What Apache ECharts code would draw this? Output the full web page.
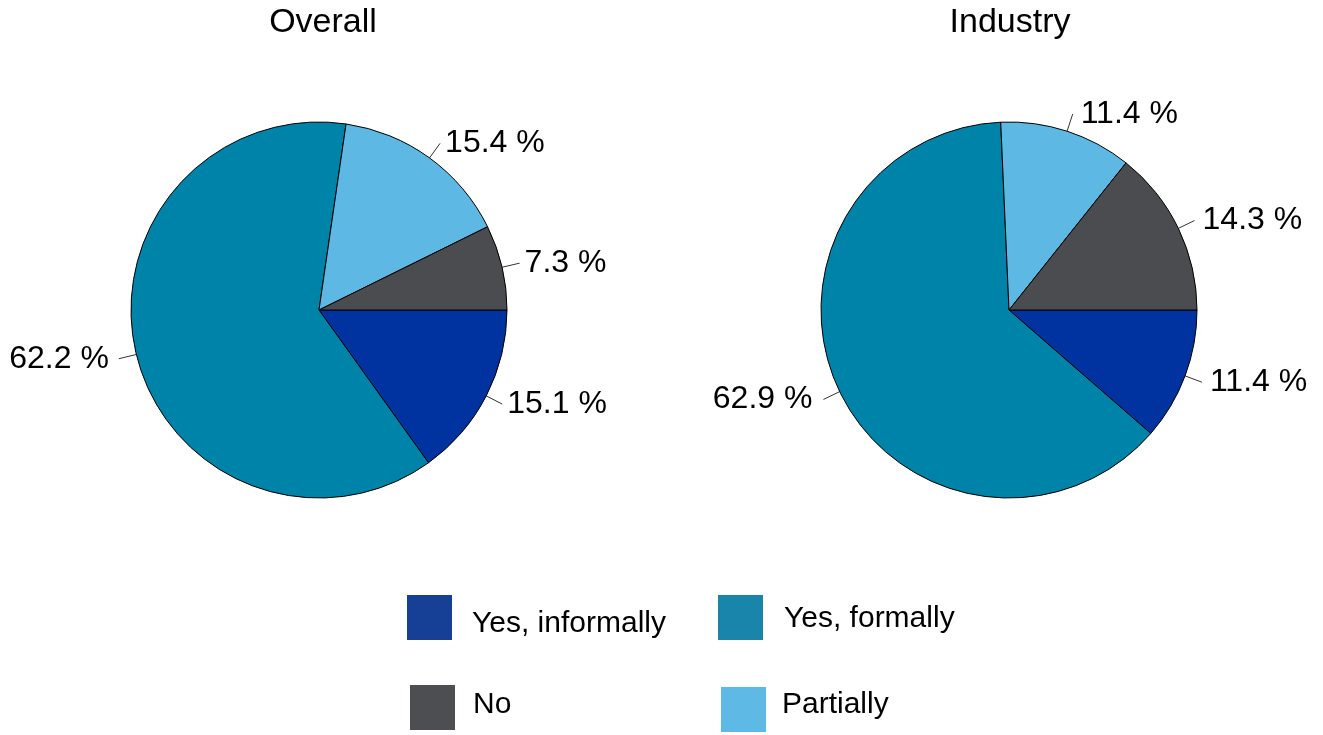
<!DOCTYPE html>
<html>
<head>
<meta charset="utf-8">
<script src="https://cdn.jsdelivr.net/npm/echarts@6/dist/echarts.min.js"></script>
<style>html,body{margin:0;padding:0;background:#fff}#c{width:1323px;height:735px}</style>
</head>
<body>
<div id="c"></div>
<script>
const categories = ['Yes, informally', 'Yes, formally', 'Partially', 'No'];
const overallValues = [15.1, 62.2, 15.4, 7.3];
const industryValues = [11.4, 62.9, 11.4, 14.3];
const pieTitles = ['Overall', 'Industry'];

const colors = {
  'Yes, informally': '#0033a0',
  'Yes, formally': '#0083a9',
  'Partially': '#5db9e4',
  'No': '#4b4c50'
};
const legendColors = {
  'Yes, informally': '#163f96',
  'Yes, formally': '#1a85aa',
  'Partially': '#5fb9e5',
  'No': '#4d4e52'
};
const FONT = '"Liberation Sans", Arial, sans-serif';

function mkData(vals, leftGap) {
  return categories.map((c, i) => {
    const d = { name: c, value: vals[i], itemStyle: { color: colors[c] } };
    if (c === 'Yes, formally') d.label = { distanceToLabelLine: leftGap };
    return d;
  });
}
function mkSeries(vals, cx, rightGap, leftGap) {
  return {
    type: 'pie',
    center: [cx, 310],
    radius: 188,
    startAngle: 0,
    clockwise: true,
    animation: false,
    bleedMargin: 0,
    data: mkData(vals, leftGap),
    itemStyle: { borderColor: '#000', borderWidth: 1 },
    label: {
      show: true,
      position: 'outside',
      formatter: p => p.value.toFixed(1) + ' %',
      color: '#000',
      fontFamily: FONT,
      fontSize: 32,
      overflow: 'none',
      distanceToLabelLine: rightGap
    },
    labelLine: { show: true, length: 18, length2: 0, lineStyle: { color: '#333', width: 1 } },
    emphasis: { disabled: true }
  };
}
// shift: vertical text offset (px, + = down) relative to icon centre
function mkLegend(name, left, top, padLeft, shift) {
  const H = 30 + 2 * Math.abs(shift);
  return {
    left: left, top: top, padding: 0,
    icon: 'rect', itemWidth: 45, itemHeight: 45,
    data: [{ name: name, itemStyle: { color: legendColors[name], borderWidth: 0 } }],
    formatter: n => '{s|}{t|' + n + '}',
    textStyle: {
      fontFamily: FONT, fontSize: 30, color: '#000', padding: [0, 0, 0, padLeft],
      rich: {
        s: { width: 0, height: H },
        t: { fontFamily: FONT, fontSize: 30, color: '#000', lineHeight: 30, verticalAlign: shift >= 0 ? 'bottom' : 'top' }
      }
    },
    selectedMode: false
  };
}
const titleStyle = { fontFamily: FONT, fontSize: 34, fontWeight: 'normal', color: '#000' };

const chart = echarts.init(document.getElementById('c'));
chart.setOption({
  animation: false,
  title: [
    { text: pieTitles[0], left: 323, top: 6, padding: 0, textAlign: 'center', textStyle: titleStyle },
    { text: pieTitles[1], left: 1010, top: 6, padding: 0, textAlign: 'center', textStyle: titleStyle }
  ],
  legend: [
    mkLegend('Yes, informally', 407, 595, 15, 6),
    mkLegend('Yes, formally', 718, 595, 16, 1.5),
    mkLegend('No', 410, 685, 13, -3),
    mkLegend('Partially', 721, 687, 11, -4.5)
  ],
  series: [mkSeries(overallValues, 319, 5, 10), mkSeries(industryValues, 1009, 8, 11)]
});
</script>
</body>
</html>
